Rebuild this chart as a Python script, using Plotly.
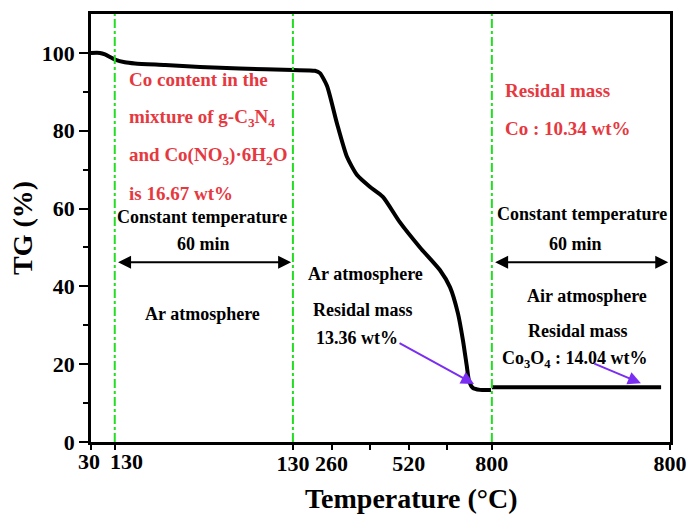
import plotly.graph_objects as go

# Programme time (min) used as abscissa; tick labels give the furnace temperature
time_min = [0, 3.0, 4.7, 8.1, 11.4, 14.8, 25, 36.7, 50, 68, 75.4, 77.1, 79.5, 82.8,
            86.2, 89.6, 93.9, 98.3, 104, 110.8, 117.5, 120.9, 123.6, 125.3, 126.6,
            127.3, 128.6, 131, 134.7]
tg_ar = [100, 100, 99.6, 98.3, 97.6, 97.3, 96.9, 96.4, 96.0, 95.6, 95.4, 94.8, 91.5, 82,
         73.3, 68.6, 65.6, 63, 56.5, 50, 44.2, 39.8, 33, 26, 19.3,
         15.8, 13.9, 13.4, 13.36]

time_air = [135, 192]
tg_air = [14.04, 14.04]

# Segment boundaries: end of ramp 1, end of Ar hold, end of ramp 2
boundaries = [8, 68, 135]

tick_pos = [0, 8, 68, 81, 94, 107, 120, 135, 195]
tick_text = ["", "", "130", "260", "", "520", "", "800", "800"]
# the two crowded labels at the start of the axis are set as separate texts
start_pos = [0, 8]
start_text = ["30", "130"]
start_shift = [-2, 12]

SERIF = "Liberation Serif"
RED = "#e6383f"
PURPLE = "#7a2ef2"
GREEN = "#22dd22"

fig = go.Figure()
fig.add_trace(go.Scatter(x=time_min, y=tg_ar, mode="lines",
                         line=dict(color="black", width=4, shape="spline", smoothing=0.6),
                         showlegend=False))
fig.add_trace(go.Scatter(x=time_air, y=tg_air, mode="lines",
                         line=dict(color="black", width=4),
                         showlegend=False))

for b in boundaries:
    fig.add_shape(type="line", x0=b, x1=b, y0=0, y1=1, xref="x", yref="paper",
                  line=dict(color=GREEN, width=2, dash="dashdot"))

def txt(x, y, s, color="black", size=18, anchor="center"):
    fig.add_annotation(x=x, y=y, text=s, showarrow=False, xanchor=anchor,
                       font=dict(family=SERIF, size=size, color=color, weight="bold"))

# left panel
txt(12.1, 93.1, "Co content in the", RED, 19, anchor="left")
txt(12.1, 83.3, "mixture of g-C<sub>3</sub>N<sub>4</sub>", RED, 19, anchor="left")
txt(12.1, 73.6, "and Co(NO<sub>3</sub>)·6H<sub>2</sub>O", RED, 19, anchor="left")
txt(12.1, 63.8, "is 16.67 wt%", RED, 19, anchor="left")
txt(37.4, 57.9, "Constant temperature")
txt(38, 51, "60 min")
txt(37.7, 32.8, "Ar atmosphere")

# middle panel
txt(92.5, 43.3, "Ar atmosphere")
txt(91.5, 33.8, "Residal mass")
txt(89.5, 26.7, "13.36 wt%")

# right panel
txt(138.7, 90.3, "Residal mass", RED, 19, anchor="left")
txt(138.7, 80.5, "Co : 10.34 wt%", RED, 19, anchor="left")
txt(165.3, 58.7, "Constant temperature")
txt(163.3, 51, "60 min")
txt(167, 37.4, "Air atmosphere")
txt(164, 28.5, "Residal mass")
txt(163, 21.3, "Co<sub>3</sub>O<sub>4</sub> : 14.04 wt%")

def arrow(x0, y0, x1, y1, color, both=False, width=2):
    fig.add_annotation(x=x1, y=y1, ax=x0, ay=y0, xref="x", yref="y", axref="x", ayref="y",
                       text="", showarrow=True, arrowhead=2, arrowsize=1.3,
                       arrowwidth=width, arrowcolor=color,
                       arrowside="end+start" if both else "end")

arrow(8.6, 46.2, 67.4, 46.2, "black", both=True)
arrow(135.6, 46.2, 194.4, 46.2, "black", both=True)
arrow(103.4, 25.6, 129, 14.9, PURPLE)
arrow(169, 20.3, 185.2, 15.1, PURPLE)

for p, t, s in zip(start_pos, start_text, start_shift):
    fig.add_annotation(x=p, y=-0.046, xref="x", yref="paper", text=t, showarrow=False,
                       xanchor="center", yanchor="middle", xshift=s,
                       font=dict(family=SERIF, size=22, color="black", weight="bold"))

# x-axis title, placed as free text
fig.add_annotation(x=0.553, y=-0.131, xref="paper", yref="paper", text="Temperature (°C)",
                   showarrow=False, xanchor="center", yanchor="middle",
                   font=dict(family=SERIF, size=28, color="black", weight="bold"))

fig.update_xaxes(range=[0, 195], tickvals=tick_pos, ticktext=tick_text, tickangle=0,
                 automargin=False, ticklabelstandoff=-5,
                 showgrid=False, zeroline=False, showline=True, linecolor="black",
                 linewidth=2.5, mirror=True, ticks="outside", ticklen=5, tickwidth=2,
                 tickcolor="black",
                 tickfont=dict(family=SERIF, size=22, color="black", weight="bold"))
fig.update_yaxes(range=[0, 110], tickvals=[0, 20, 40, 60, 80, 100], automargin=False,
                 showgrid=False, zeroline=False, showline=True, linecolor="black",
                 linewidth=2.5, mirror=True, ticks="outside", ticklen=9, tickwidth=2,
                 tickcolor="black",
                 minor=dict(tickvals=[10, 30, 50, 70, 90], ticks="outside", ticklen=5,
                            tickwidth=2, tickcolor="black"),
                 tickfont=dict(family=SERIF, size=22, color="black", weight="bold"),
                 title=dict(text="TG (%)", standoff=2,
                            font=dict(family=SERIF, size=28, color="black", weight="bold")))

fig.update_layout(width=690, height=516, margin=dict(l=91, r=20, t=14, b=74),
                  plot_bgcolor="white", paper_bgcolor="white")

fig.write_html("out.html")
